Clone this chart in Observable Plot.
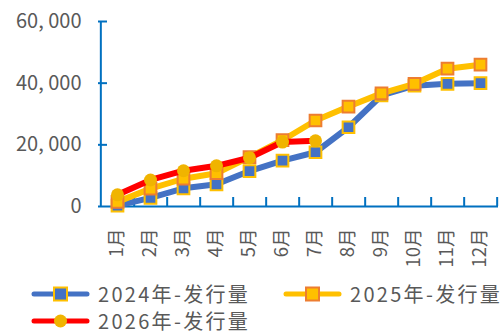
<!DOCTYPE html>
<html><head><meta charset="utf-8">
<script src="https://cdn.jsdelivr.net/npm/d3@7"></script>
<script src="https://cdn.jsdelivr.net/npm/@observablehq/plot@0.6"></script>
<style>
body{margin:0;background:#fff;font-family:"Noto Sans CJK SC","Noto Sans",sans-serif;}
#wrap{position:relative;width:503px;height:336px;overflow:hidden;}
.leg{position:absolute;display:flex;align-items:center;height:24px;line-height:1;font-size:20px;color:#595959;white-space:nowrap;letter-spacing:2.3px;}
.leg svg{margin-right:8px;}
</style></head><body><div id="wrap"></div>
<script>
const months = ["1月","2月","3月","4月","5月","6月","7月","8月","9月","10月","11月","12月"];
const v2024 = [300, 2800, 5900, 7200, 11500, 14900, 17600, 25700, 36000, 39200, 39800, 40000];
const v2025 = [1500, 5800, 9000, 10800, 16000, 21500, 27900, 32400, 36700, 39800, 44700, 46000];
const v2026 = [3800, 8600, 11600, 13200, 15800, 20900, 21300];
const yTicks = [0, 20000, 40000, 60000];
const seriesNames = ["2024年-发行量", "2025年-发行量", "2026年-发行量"];

const W = 503, H = 280, ml = 98, mr = 5, mt = 21, mb = 74;
const plotH = H - mt - mb;
const step = (W - ml - mr) / months.length;
const rows = vals => vals.map((v, i) => ({m: months[i], v}));
const axisC = "#0070C0";
const blue = "#4472C4", yellow = "#FFC000", orange = "#ED7D31", red = "#FF0000", gold = "#F0B400";

const chart = Plot.plot({
  width: W, height: H, marginLeft: ml, marginRight: mr, marginTop: mt, marginBottom: mb,
  style: {fontFamily: '"Noto Sans CJK SC","Noto Sans",sans-serif', background: "white", overflow: "visible"},
  x: {type: "point", domain: months, padding: 0.5, label: null},
  y: {domain: [0, 60000], label: null},
  marks: [
    Plot.axisY(yTicks, {tickSize: 0, tickPadding: 17, tickFormat: d => d3.format(",")(d).replace(",", ", "), fontSize: 20, fill: "#595959"}),
    Plot.axisX(months, {tickSize: 0, tickRotate: -90, tickPadding: 22, fontSize: 18.5, fill: "#595959"}),
    Plot.ruleY(yTicks.slice(1), {y: d => d, stroke: axisC, strokeWidth: 2, insetRight: W - ml - mr - 9}),
    Plot.ruleX(months, {x: d => d, dx: step / 2, stroke: axisC, strokeWidth: 2, insetTop: plotH - 9}),
    Plot.ruleY([0], {stroke: axisC, strokeWidth: 2}),
    Plot.ruleX([months[0]], {dx: -step / 2, y1: 0, y2: 60000, stroke: axisC, strokeWidth: 2}),
    Plot.line(rows(v2024), {x: "m", y: "v", stroke: blue, strokeWidth: 6}),
    Plot.dot(rows(v2024), {x: "m", y: "v", symbol: "square", r: 6.6, fill: blue, stroke: yellow, strokeWidth: 2}),
    Plot.line(rows(v2025), {x: "m", y: "v", stroke: yellow, strokeWidth: 6}),
    Plot.dot(rows(v2025), {x: "m", y: "v", symbol: "square", r: 6.6, fill: yellow, stroke: orange, strokeWidth: 2}),
    Plot.line(rows(v2026), {x: "m", y: "v", stroke: red, strokeWidth: 6}),
    Plot.dot(rows(v2026), {x: "m", y: "v", r: 6.5, fill: gold})
  ]
});
const wrap = document.getElementById("wrap");
wrap.appendChild(chart);

const legendItems = [
  {name: seriesNames[0], line: blue, sym: "square", fill: blue, stroke: yellow, left: 31, cy: 294},
  {name: seriesNames[1], line: yellow, sym: "square", fill: yellow, stroke: orange, left: 283, cy: 294},
  {name: seriesNames[2], line: red, sym: "circle", fill: gold, stroke: "none", left: 31, cy: 321}
];
for (const it of legendItems) {
  const div = document.createElement("div");
  div.className = "leg";
  div.style.left = it.left + "px";
  div.style.top = (it.cy - 12) + "px";
  const svg = d3.create("svg").attr("width", 59).attr("height", 24);
  svg.append("line").attr("x1", 3).attr("x2", 56).attr("y1", 12).attr("y2", 12)
    .attr("stroke", it.line).attr("stroke-width", 5).attr("stroke-linecap", "round");
  if (it.sym === "square") {
    svg.append("rect").attr("x", 23).attr("y", 5.5).attr("width", 13).attr("height", 13)
      .attr("fill", it.fill).attr("stroke", it.stroke).attr("stroke-width", 2);
  } else {
    svg.append("circle").attr("cx", 29.5).attr("cy", 12).attr("r", 6.5).attr("fill", it.fill);
  }
  div.appendChild(svg.node());
  const span = document.createElement("span");
  span.textContent = it.name;
  div.appendChild(span);
  wrap.appendChild(div);
}
</script>
</body></html>
